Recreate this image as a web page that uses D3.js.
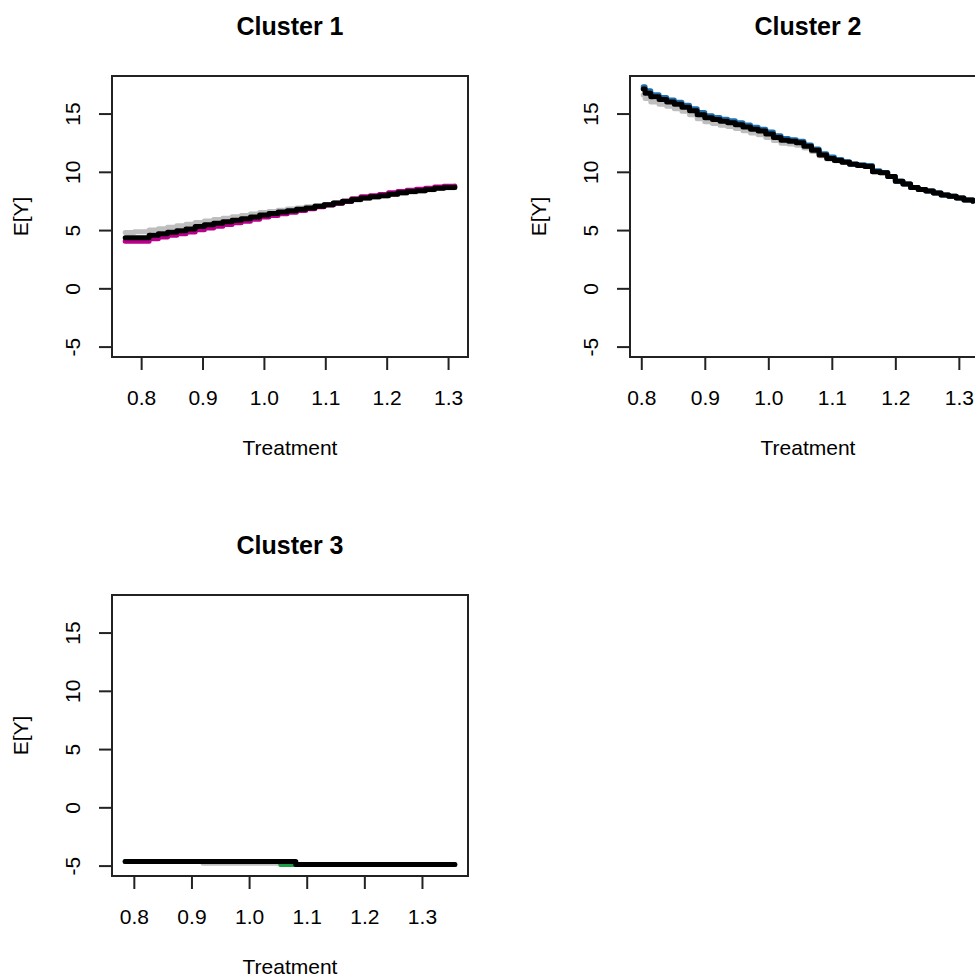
<!DOCTYPE html>
<html>
<head>
<meta charset="utf-8">
<script src="https://cdn.jsdelivr.net/npm/d3@7"></script>
<style>
  body { margin: 0; background: #fff; }
  svg { display: block; }
  text { font-family: "Liberation Sans", Arial, sans-serif; fill: #000; }
</style>
</head>
<body>
<svg id="chart" width="975" height="979"></svg>
<script>
// ---- data -------------------------------------------------------------
const clusterTitles = ["Cluster 1", "Cluster 2", "Cluster 3"];
const xTicks = [0.8, 0.9, 1.0, 1.1, 1.2, 1.3];
const yTicks = [-5, 0, 5, 10, 15];
const yLimits = [-5.0, 17.33];
const xLabel = "Treatment";
const yLabel = "E[Y]";

// Cluster 1
const treatment1 = [0.774, 0.789, 0.813, 0.828, 0.843, 0.858, 0.873, 0.888, 0.903, 0.918,
  0.933, 0.948, 0.963, 0.978, 0.993, 1.008, 1.023, 1.038, 1.053, 1.068, 1.083, 1.098,
  1.113, 1.128, 1.143, 1.158, 1.173, 1.188, 1.203, 1.218, 1.233, 1.248, 1.263, 1.278,
  1.293, 1.311];
const naive1 = [4.80, 4.85, 5.00, 5.12, 5.25, 5.38, 5.50, 5.65, 5.78, 5.90, 6.02, 6.14,
  6.26, 6.38, 6.50, 6.60, 6.70, 6.80, 6.90, 7.00, 7.10, 7.20, 7.30, 7.45, 7.58, 7.70,
  7.82, 7.92, 8.05, 8.16, 8.27, 8.36, 8.46, 8.56, 8.63, 8.66];
const adjusted1 = [4.05, 4.05, 4.25, 4.40, 4.55, 4.68, 4.83, 5.02, 5.18, 5.32, 5.47, 5.62,
  5.76, 5.92, 6.12, 6.25, 6.40, 6.52, 6.68, 6.82, 7.00, 7.15, 7.30, 7.48, 7.68, 7.85,
  7.95, 8.05, 8.20, 8.32, 8.42, 8.50, 8.60, 8.70, 8.76, 8.78];
const mean1 = [4.35, 4.35, 4.55, 4.68, 4.82, 4.95, 5.10, 5.30, 5.45, 5.58, 5.72, 5.85,
  5.98, 6.12, 6.30, 6.42, 6.55, 6.65, 6.78, 6.90, 7.05, 7.18, 7.32, 7.48, 7.62, 7.75,
  7.85, 7.95, 8.08, 8.20, 8.30, 8.38, 8.48, 8.58, 8.65, 8.68];

// Cluster 2
const treatment2 = [0.803, 0.806, 0.815, 0.828, 0.840, 0.852, 0.864, 0.876, 0.888, 0.900,
  0.912, 0.924, 0.936, 0.948, 0.960, 0.972, 0.984, 0.996, 1.008, 1.020, 1.032, 1.044,
  1.056, 1.068, 1.080, 1.092, 1.104, 1.116, 1.128, 1.140, 1.152, 1.164, 1.176, 1.188,
  1.200, 1.212, 1.224, 1.236, 1.248, 1.260, 1.272, 1.284, 1.296, 1.308, 1.322];
const naive2 = [16.6, 16.3, 16.0, 15.8, 15.62, 15.42, 15.2, 14.9, 14.55, 14.3, 14.15, 14.0,
  13.88, 13.72, 13.52, 13.33, 13.18, 12.95, 12.68, 12.45, 12.38, 12.28, 12.05, 11.75,
  11.38, 11.1, 10.95, 10.82, 10.65, 10.55, 10.45, 10.0, 9.92, 9.6, 9.2, 8.95, 8.65, 8.48,
  8.35, 8.18, 8.02, 7.9, 7.75, 7.58, 7.48];
const adjusted2 = [17.3, 16.95, 16.62, 16.38, 16.17, 15.97, 15.72, 15.42, 15.08, 14.82,
  14.66, 14.52, 14.38, 14.22, 14.02, 13.82, 13.66, 13.42, 13.1, 12.85, 12.76, 12.62, 12.3,
  11.95, 11.55, 11.28, 11.05, 10.86, 10.68, 10.6, 10.55, 10.1, 9.95, 9.6, 9.2, 8.95, 8.65,
  8.48, 8.35, 8.18, 8.02, 7.9, 7.75, 7.58, 7.48];
const mean2 = [17.1, 16.75, 16.45, 16.2, 16.0, 15.8, 15.55, 15.25, 14.9, 14.65, 14.5, 14.35,
  14.22, 14.05, 13.85, 13.65, 13.5, 13.25, 12.95, 12.7, 12.62, 12.5, 12.2, 11.85, 11.45,
  11.15, 10.98, 10.82, 10.65, 10.55, 10.45, 10.0, 9.92, 9.6, 9.2, 8.95, 8.65, 8.48, 8.35,
  8.18, 8.02, 7.9, 7.75, 7.58, 7.48];

// Cluster 3
const treatment3 = [0.785, 0.920, 1.055, 1.081, 1.357];
const naive3 = [-4.65, -4.80, -4.90, -4.90, -4.90];
const adjusted3 = [-4.65, -4.65, -4.90, -4.90, -4.90];
const mean3 = [-4.65, -4.65, -4.65, -4.90, -4.90];

const seriesColours = ["#b8008a", "#1f6fae", "#1f9e48"];
const bandColour = "#bebebe";

// ---- layout ------------------------------------------------------------
const panelStep = { x: 518, y: 519 };
const box = { left: 112, top: 76, width: 356, height: 281 };
const tickLen = 13;
const baseFont = 21;

const panels = [
  { title: clusterTitles[0], col: 0, row: 0, x: treatment1, naive: naive1, adjusted: adjusted1, mean: mean1, colour: seriesColours[0] },
  { title: clusterTitles[1], col: 1, row: 0, x: treatment2, naive: naive2, adjusted: adjusted2, mean: mean2, colour: seriesColours[1] },
  { title: clusterTitles[2], col: 0, row: 1, x: treatment3, naive: naive3, adjusted: adjusted3, mean: mean3, colour: seriesColours[2] }
];

const svg = d3.select("#chart");

// R-style 4% axis expansion
function expand([a, b]) {
  const pad = (b - a) * 0.04;
  return [a - pad, b + pad];
}

panels.forEach(p => {
  const g = svg.append("g")
    .attr("transform", `translate(${p.col * panelStep.x},${p.row * panelStep.y})`);

  const x = d3.scaleLinear()
    .domain(expand(d3.extent(p.x)))
    .range([box.left, box.left + box.width]);
  const y = d3.scaleLinear()
    .domain(expand(yLimits))
    .range([box.top + box.height, box.top]);

  const line = key => d3.line()
    .x((d, i) => x(p.x[i]))
    .y(d => y(d))
    .curve(d3.curveStepAfter)(p[key]);

  const plot = g.append("g");
  [["naive", bandColour], ["adjusted", p.colour], ["mean", "#000"]].forEach(([key, col]) => {
    plot.append("path")
      .attr("d", line(key))
      .attr("fill", "none")
      .attr("stroke", col)
      .attr("stroke-width", 5)
      .attr("stroke-linejoin", "round")
      .attr("stroke-linecap", "round");
  });

  // frame
  g.append("rect")
    .attr("x", box.left).attr("y", box.top)
    .attr("width", box.width).attr("height", box.height)
    .attr("fill", "none").attr("stroke", "#222").attr("stroke-width", 2);

  // bottom axis
  const xAxis = g.append("g")
    .attr("transform", `translate(0,${box.top + box.height})`)
    .call(d3.axisBottom(x).tickValues(xTicks).tickFormat(d3.format(".1f"))
      .tickSize(tickLen).tickSizeOuter(0).tickPadding(20));
  xAxis.select(".domain").remove();
  xAxis.selectAll(".tick line").attr("stroke", "#222").attr("stroke-width", 2);
  xAxis.selectAll(".tick text")
    .attr("font-size", baseFont)
    .attr("font-family", "Liberation Sans, Arial, sans-serif")
    .attr("fill", "#000");

  // left axis with rotated labels
  const yAxis = g.append("g")
    .attr("transform", `translate(${box.left},0)`)
    .call(d3.axisLeft(y).tickValues(yTicks).tickFormat(d => String(d))
      .tickSize(tickLen).tickSizeOuter(0));
  yAxis.select(".domain").remove();
  yAxis.selectAll(".tick line").attr("stroke", "#222").attr("stroke-width", 2);
  yAxis.selectAll(".tick text")
    .attr("font-size", baseFont)
    .attr("font-family", "Liberation Sans, Arial, sans-serif")
    .attr("fill", "#000")
    .attr("x", null).attr("dy", null)
    .attr("text-anchor", "middle")
    .attr("transform", `translate(${80 - box.left},0) rotate(-90)`);

  // titles
  g.append("text")
    .attr("x", box.left + box.width / 2).attr("y", 35)
    .attr("text-anchor", "middle")
    .attr("font-size", 25).attr("font-weight", "bold")
    .text(p.title);
  g.append("text")
    .attr("x", box.left + box.width / 2).attr("y", 455)
    .attr("text-anchor", "middle")
    .attr("font-size", baseFont)
    .text(xLabel);
  g.append("text")
    .attr("transform", `translate(28,${box.top + box.height / 2}) rotate(-90)`)
    .attr("text-anchor", "middle")
    .attr("font-size", baseFont)
    .text(yLabel);
});
</script>
</body>
</html>
